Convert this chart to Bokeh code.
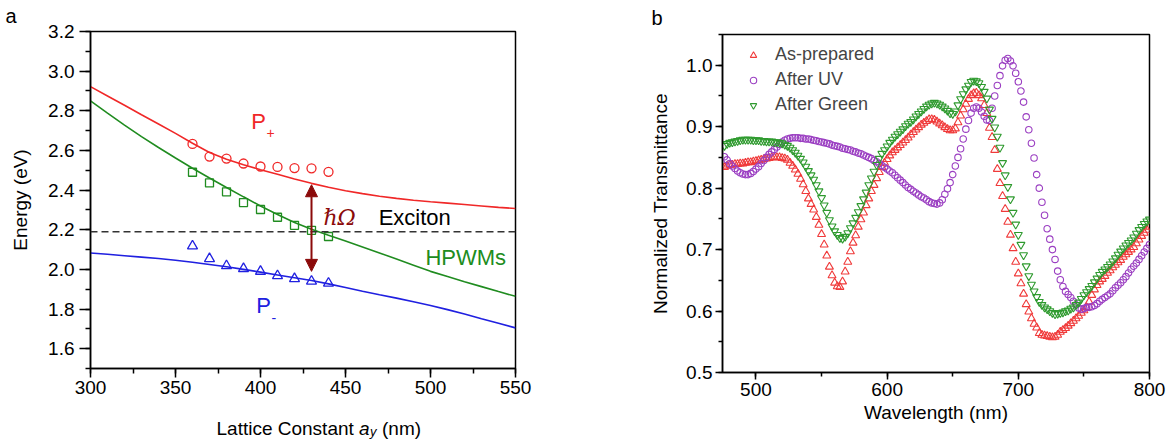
from bokeh.plotting import figure
from bokeh.layouts import row, column
from bokeh.models import (Range1d, SingleIntervalTicker, PrintfTickFormatter, Label,
                          Arrow, NormalHead, Legend, LegendItem, Span, Title)
from bokeh.embed import file_html
from bokeh.resources import INLINE

FONT = "Liberation Sans"

# ---------------- Panel a data ----------------
lattice_fit = [300, 310, 320, 330, 340, 350, 360, 370, 380, 390, 400, 410, 420,
               430, 440, 450, 460, 470, 480, 490, 500, 510, 520, 530, 540, 550]
p_plus_fit = [2.922, 2.875, 2.828, 2.780, 2.733, 2.686, 2.636, 2.590, 2.556, 2.528,
              2.503, 2.480, 2.456, 2.434, 2.414, 2.397, 2.382, 2.369, 2.358, 2.349,
              2.341, 2.334, 2.327, 2.320, 2.313, 2.307]
hpwm_fit = [2.850, 2.788, 2.728, 2.670, 2.615, 2.562, 2.510, 2.461, 2.413, 2.366,
            2.320, 2.277, 2.237, 2.202, 2.172, 2.143, 2.113, 2.083, 2.052, 2.021,
            1.990, 1.964, 1.938, 1.913, 1.888, 1.864]
p_minus_fit = [2.083, 2.076, 2.069, 2.062, 2.055, 2.046, 2.036, 2.025, 2.013, 2.000,
               1.986, 1.972, 1.958, 1.944, 1.927, 1.909, 1.890, 1.872, 1.855, 1.837,
               1.818, 1.797, 1.775, 1.751, 1.728, 1.705]

lattice_meas = [360, 370, 380, 390, 400, 410, 420, 430, 440]
p_plus_meas = [2.633, 2.569, 2.559, 2.534, 2.519, 2.517, 2.511, 2.510, 2.492]
hpwm_meas = [2.490, 2.436, 2.391, 2.337, 2.302, 2.263, 2.222, 2.197, 2.166]
p_minus_meas = [2.118, 2.054, 2.018, 2.004, 1.990, 1.968, 1.953, 1.940, 1.930]

exciton_energy = 2.19
rabi_lattice = 430
rabi_low = 1.99
rabi_high = 2.427

# ---------------- Panel b data ----------------
wavelength = list(range(476, 801, 2))
as_prepared = [
    0.834, 0.836, 0.838, 0.838, 0.839, 0.839, 0.840, 0.840, 0.841, 0.842,
    0.842, 0.843, 0.844, 0.845, 0.846, 0.847, 0.848, 0.849, 0.850, 0.850,
    0.850, 0.850, 0.849, 0.848, 0.846, 0.841, 0.836, 0.830, 0.823, 0.815,
    0.806, 0.795, 0.783, 0.774, 0.765, 0.753, 0.740, 0.725, 0.708, 0.690,
    0.672, 0.658, 0.646, 0.640, 0.639, 0.648, 0.664, 0.680, 0.697, 0.711,
    0.723, 0.737, 0.749, 0.760, 0.772, 0.783, 0.795, 0.805, 0.816, 0.826,
    0.834, 0.841, 0.847, 0.853, 0.858, 0.862, 0.866, 0.870, 0.874, 0.878,
    0.882, 0.887, 0.891, 0.895, 0.899, 0.903, 0.906, 0.909, 0.912, 0.912,
    0.911, 0.908, 0.905, 0.902, 0.899, 0.896, 0.894, 0.894, 0.897, 0.907,
    0.918, 0.928, 0.937, 0.945, 0.951, 0.954, 0.955, 0.951, 0.946, 0.935,
    0.922, 0.898, 0.883, 0.862, 0.831, 0.808, 0.787, 0.766, 0.745, 0.724,
    0.702, 0.680, 0.661, 0.645, 0.628, 0.611, 0.599, 0.588, 0.579, 0.573,
    0.564, 0.561, 0.560, 0.559, 0.558, 0.557, 0.558, 0.561, 0.566, 0.569,
    0.572, 0.576, 0.580, 0.584, 0.588, 0.592, 0.597, 0.601, 0.606, 0.615,
    0.626, 0.635, 0.642, 0.648, 0.652, 0.657, 0.662, 0.666, 0.671, 0.675,
    0.679, 0.683, 0.688, 0.692, 0.696, 0.700, 0.704, 0.710, 0.716, 0.722,
    0.727, 0.732, 0.737]
after_uv = [
    0.851, 0.846, 0.840, 0.836, 0.832, 0.828, 0.825, 0.823, 0.822, 0.822,
    0.824, 0.827, 0.831, 0.835, 0.840, 0.845, 0.850, 0.855, 0.859, 0.863,
    0.867, 0.871, 0.875, 0.878, 0.880, 0.881, 0.882, 0.882, 0.882, 0.881,
    0.881, 0.880, 0.880, 0.879, 0.878, 0.877, 0.876, 0.875, 0.874, 0.873,
    0.872, 0.870, 0.869, 0.868, 0.867, 0.865, 0.864, 0.863, 0.862, 0.860,
    0.859, 0.857, 0.856, 0.854, 0.852, 0.850, 0.848, 0.845, 0.843, 0.840,
    0.837, 0.834, 0.831, 0.828, 0.825, 0.821, 0.817, 0.813, 0.809, 0.805,
    0.801, 0.798, 0.795, 0.792, 0.789, 0.786, 0.784, 0.781, 0.778, 0.776,
    0.775, 0.774, 0.776, 0.781, 0.790, 0.799, 0.809, 0.822, 0.836, 0.850,
    0.864, 0.880, 0.896, 0.910, 0.922, 0.930, 0.932, 0.930, 0.924, 0.917,
    0.911, 0.910, 0.930, 0.950, 0.967, 0.983, 0.999, 1.008, 1.011, 1.007,
    0.999, 0.987, 0.973, 0.958, 0.940, 0.916, 0.895, 0.873, 0.849, 0.822,
    0.800, 0.777, 0.756, 0.734, 0.717, 0.700, 0.684, 0.665, 0.651, 0.640,
    0.632, 0.627, 0.622, 0.616, 0.610, 0.605, 0.603, 0.604, 0.606, 0.606,
    0.607, 0.609, 0.612, 0.616, 0.619, 0.622, 0.625, 0.628, 0.633, 0.638,
    0.642, 0.646, 0.651, 0.656, 0.662, 0.668, 0.673, 0.678, 0.684, 0.690,
    0.696, 0.702, 0.708]
after_green = [
    0.869, 0.872, 0.874, 0.875, 0.876, 0.877, 0.878, 0.879, 0.879, 0.879,
    0.879, 0.878, 0.878, 0.878, 0.877, 0.877, 0.876, 0.876, 0.876, 0.875,
    0.875, 0.874, 0.873, 0.871, 0.869, 0.866, 0.862, 0.858, 0.853, 0.848,
    0.842, 0.835, 0.828, 0.821, 0.814, 0.805, 0.795, 0.784, 0.772, 0.760,
    0.748, 0.738, 0.730, 0.724, 0.719, 0.718, 0.721, 0.727, 0.735, 0.743,
    0.752, 0.761, 0.771, 0.782, 0.793, 0.805, 0.816, 0.827, 0.838, 0.848,
    0.856, 0.862, 0.868, 0.874, 0.879, 0.884, 0.888, 0.892, 0.896, 0.901,
    0.905, 0.908, 0.912, 0.917, 0.921, 0.925, 0.929, 0.933, 0.936, 0.938,
    0.939, 0.938, 0.936, 0.933, 0.930, 0.926, 0.922, 0.921, 0.925, 0.935,
    0.945, 0.953, 0.961, 0.967, 0.973, 0.975, 0.974, 0.971, 0.965, 0.957,
    0.946, 0.928, 0.913, 0.899, 0.884, 0.866, 0.841, 0.821, 0.802, 0.782,
    0.760, 0.741, 0.724, 0.708, 0.691, 0.673, 0.657, 0.643, 0.632, 0.623,
    0.615, 0.610, 0.606, 0.603, 0.600, 0.597, 0.595, 0.596, 0.597, 0.598,
    0.600, 0.601, 0.604, 0.606, 0.610, 0.614, 0.620, 0.626, 0.631, 0.636,
    0.641, 0.647, 0.653, 0.659, 0.664, 0.668, 0.672, 0.676, 0.681, 0.686,
    0.692, 0.697, 0.702, 0.707, 0.711, 0.715, 0.720, 0.726, 0.732, 0.737,
    0.742, 0.746, 0.749]
series_labels = ["As-prepared", "After UV", "After Green"]

RED_A = "#f02828"
GREEN_A = "#208c20"
BLUE_A = "#2020e0"
ARROW_C = "#8b0a0a"
RED_B = "#f03a3a"
PURPLE_B = "#9b3fc2"
GREEN_B = "#2e9a2e"


def style_axes(p, tick_out, minor_out):
    p.xgrid.visible = False
    p.ygrid.visible = False
    p.outline_line_color = "black"
    p.outline_line_width = 1.5
    p.outline_line_alpha = 1
    p.background_fill_color = "white"
    p.border_fill_color = "white"
    for ax in (p.xaxis[0], p.yaxis[0]):
        ax.axis_line_color = "black"
        ax.axis_line_width = 1.5
        ax.major_tick_line_color = "black"
        ax.major_tick_line_width = 1.5
        ax.minor_tick_line_color = "black"
        ax.minor_tick_line_width = 1.5
        ax.major_tick_in = 0
        ax.major_tick_out = tick_out
        ax.minor_tick_in = 0
        ax.minor_tick_out = minor_out
        ax.major_label_text_font = FONT
        ax.major_label_text_font_size = "19px"
        ax.major_label_text_color = "black"
        ax.axis_label_text_font = FONT
        ax.axis_label_text_font_size = "19px"
        ax.axis_label_text_font_style = "normal"
        ax.axis_label_text_color = "black"


def lab(p, x, y, text, color="black", size="22px", font=FONT, style="normal",
        align="left", units="data", baseline="middle"):
    p.add_layout(Label(x=x, y=y, x_units=units, y_units=units, text=text,
                       text_color=color, text_font=font, text_font_size=size,
                       text_font_style=style, text_align=align, text_baseline=baseline))


def panel_letter(text, offset, standoff):
    return Title(text=text, align="left", offset=offset, vertical_align="top",
                 standoff=standoff, text_font=FONT, text_font_size="20px",
                 text_font_style="normal", text_color="black")


# ---------------- Panel a ----------------
pa = figure(width=640, height=404, x_range=Range1d(300, 550), y_range=Range1d(1.5, 3.2),
            output_backend="svg", toolbar_location=None,
            min_border_left=90, min_border_right=125, min_border_top=31, min_border_bottom=36)
pa.title = panel_letter("a", -85, 5)
style_axes(pa, 11, 5)
pa.xaxis.ticker = SingleIntervalTicker(interval=50, num_minor_ticks=2)
pa.yaxis.ticker = SingleIntervalTicker(interval=0.2, num_minor_ticks=2)
pa.yaxis.formatter = PrintfTickFormatter(format="%.1f")
pa.xaxis.major_tick_out = 9
pa.xaxis.major_label_standoff = 3
pa.yaxis.major_label_standoff = 5
pa.yaxis.axis_label = "Energy (eV)"
pa.yaxis.axis_label_standoff = 14

pa.add_layout(Span(location=exciton_energy, dimension="width", line_color="#333333",
                   line_width=1.6, line_dash="7 4"))

pa.line(lattice_fit, p_plus_fit, line_color=RED_A, line_width=1.6)
pa.line(lattice_fit, hpwm_fit, line_color=GREEN_A, line_width=1.6)
pa.line(lattice_fit, p_minus_fit, line_color=BLUE_A, line_width=1.6)

pa.scatter(lattice_meas, p_plus_meas, marker="circle", size=9, fill_color=None,
           line_color=RED_A, line_width=1.3)
pa.scatter(lattice_meas, hpwm_meas, marker="square", size=8, fill_color=None,
           line_color=GREEN_A, line_width=1.3)
pa.scatter(lattice_meas, p_minus_meas, marker="triangle", size=10, fill_color=None,
           line_color=BLUE_A, line_width=1.3)

pa.add_layout(Arrow(start=NormalHead(size=12, fill_color=ARROW_C, line_color=ARROW_C),
                    end=NormalHead(size=12, fill_color=ARROW_C, line_color=ARROW_C),
                    x_start=rabi_lattice, y_start=rabi_low, x_end=rabi_lattice, y_end=rabi_high,
                    line_color=ARROW_C, line_width=2))

lab(pa, 394.5, 2.745, "P", RED_A)
lab(pa, 403.5, 2.690, "+", RED_A, size="14px")
lab(pa, 397.5, 1.818, "P", BLUE_A)
lab(pa, 406.5, 1.757, "-", BLUE_A, size="14px")
lab(pa, 437.0, 2.262, "\u210f\u03a9", ARROW_C, font="DejaVu Serif", style="italic")
lab(pa, 469.5, 2.260, "Exciton", "black")
lab(pa, 497.0, 2.060, "HPWMs", GREEN_A)

# x-axis title of panel a (italic a with subscript y), drawn in a strip under the plot;
# the strip's frame is aligned with the plot frame (left edge at canvas x = 90)
bottom_a = figure(width=640, height=35, x_range=Range1d(0, 1), y_range=Range1d(0, 1),
                  x_axis_location=None, y_axis_location=None, min_border=0,
                  output_backend="svg", toolbar_location=None)
bottom_a.outline_line_color = None
bottom_a.xgrid.visible = False
bottom_a.ygrid.visible = False
lab(bottom_a, 126, 11, "Lattice Constant", size="19px", units="screen", baseline="alphabetic")
lab(bottom_a, 268.5, 11, "a", size="19px", style="italic", units="screen", baseline="alphabetic")
lab(bottom_a, 279.5, 8, "y", size="13px", style="italic", units="screen", baseline="alphabetic")
lab(bottom_a, 291.5, 11, "(nm)", size="19px", units="screen", baseline="alphabetic")

# ---------------- Panel b ----------------
pb = figure(width=530, height=439, x_range=Range1d(474.5, 800), y_range=Range1d(0.5, 1.05),
            output_backend="svg", toolbar_location=None,
            min_border_left=82, min_border_right=21, min_border_top=34, min_border_bottom=67)
pb.title = panel_letter("b", -71, 8)
style_axes(pb, 7, 4)
pb.xaxis.ticker = SingleIntervalTicker(interval=100, num_minor_ticks=2)
pb.yaxis.ticker = SingleIntervalTicker(interval=0.1, num_minor_ticks=2)
pb.yaxis.formatter = PrintfTickFormatter(format="%.1f")
pb.xaxis.major_label_standoff = 3
pb.yaxis.major_label_standoff = 3
pb.xaxis.axis_label = "Wavelength (nm)"
pb.xaxis.axis_label_standoff = 3
pb.yaxis.axis_label = "Normalized Transmittance"
pb.yaxis.axis_label_standoff = 12

r1 = pb.scatter(wavelength, as_prepared, marker="triangle", size=8, fill_color=None,
                line_color=RED_B, line_width=1.1)
r2 = pb.scatter(wavelength, after_uv, marker="circle", size=6.5, fill_color=None,
                line_color=PURPLE_B, line_width=1.1)
r3 = pb.scatter(wavelength, after_green, marker="inverted_triangle", size=8, fill_color=None,
                line_color=GREEN_B, line_width=1.1)

legend = Legend(items=[LegendItem(label=series_labels[0], renderers=[r1]),
                       LegendItem(label=series_labels[1], renderers=[r2]),
                       LegendItem(label=series_labels[2], renderers=[r3])],
                location=(23, 256), orientation="vertical",
                glyph_width=16, glyph_height=16, label_height=23, spacing=2,
                padding=0, margin=0, label_standoff=14,
                label_text_font=FONT, label_text_font_size="18px",
                border_line_alpha=0, background_fill_alpha=0)
pb.add_layout(legend)

layout = row(column(pa, bottom_a), pb)
open("out.html", "w").write(file_html(layout, INLINE))
